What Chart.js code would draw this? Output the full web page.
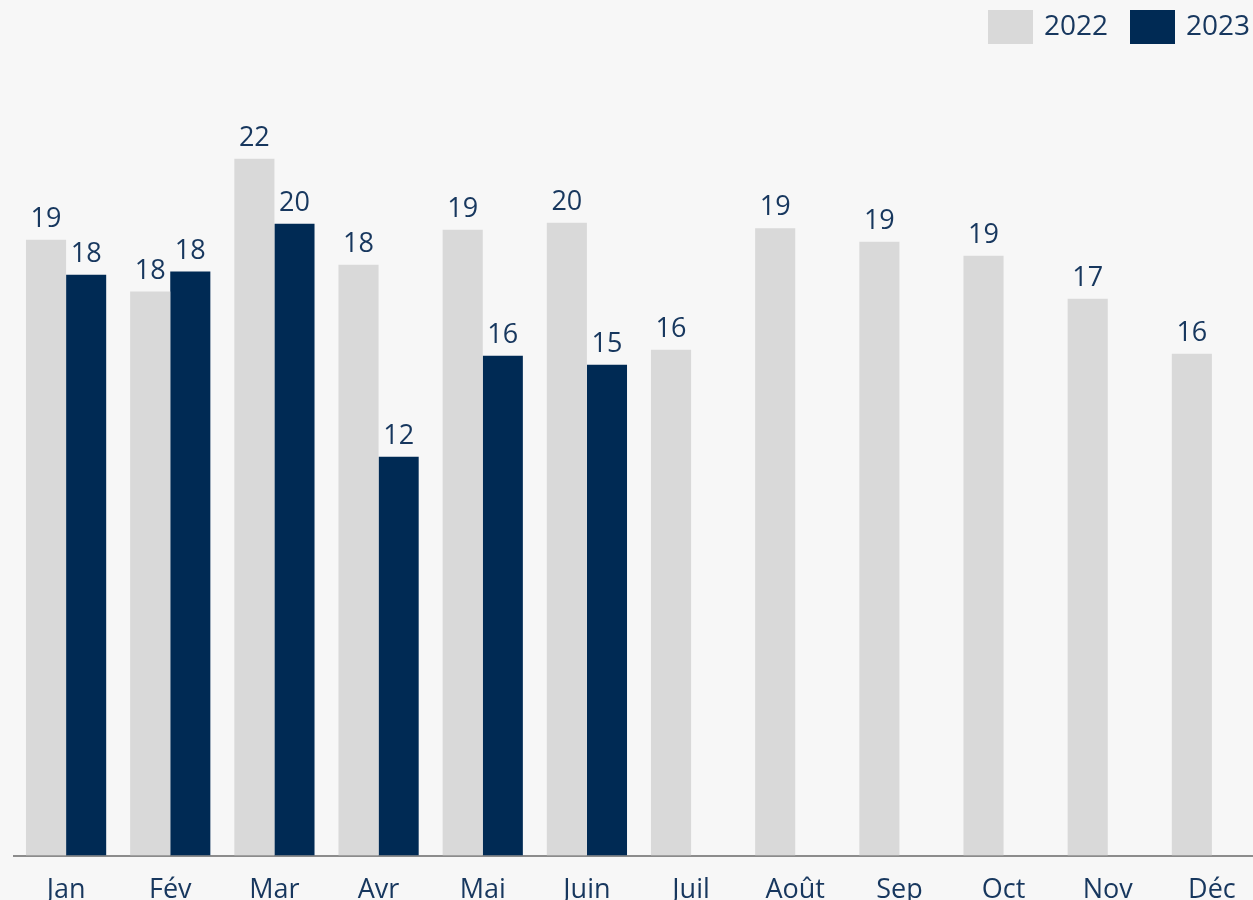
<!DOCTYPE html>
<html>
<head>
<meta charset="utf-8">
<script src="https://cdn.jsdelivr.net/npm/chart.js@4.4.1/dist/chart.umd.min.js"></script>
<style>
    html, body { margin: 0; padding: 0; background: #f7f7f7; overflow: hidden; }
    #wrap { width: 1265px; height: 926px; }
</style>
</head>
<body>
<div id="wrap"><canvas id="chart" width="1265" height="926"></canvas></div>
<script>
const months = ["Jan", "Fév", "Mar", "Avr", "Mai", "Juin", "Juil", "Août", "Sep", "Oct", "Nov", "Déc"];
const values2022 = [19.13, 17.52, 21.65, 18.35, 19.44, 19.66, 15.71, 19.49, 19.07, 18.63, 17.30, 15.59];
const values2023 = [18.04, 18.14, 19.63, 12.39, 15.53, 15.25, null, null, null, null, null, null];

const textColor = "#17375e";
const fontFamily = "'Open Sans', 'Noto Sans', sans-serif";

// numbers above the bars
const valueLabels = {
    id: "valueLabels",
    afterDatasetsDraw(chart) {
        const ctx = chart.ctx;
        ctx.save();
        ctx.font = `27px ${fontFamily}`;
        ctx.fillStyle = textColor;
        ctx.textAlign = "center";
        ctx.textBaseline = "alphabetic";
        chart.data.datasets.forEach((ds, i) => {
            chart.getDatasetMeta(i).data.forEach((bar, j) => {
                const v = ds.data[j];
                if (v == null) return;
                ctx.fillText(Math.round(v), bar.x, bar.y - 13);
            });
        });
        ctx.restore();
    }
};

// legend in the top right corner
const topLegend = {
    id: "topLegend",
    afterDraw(chart) {
        const ctx = chart.ctx;
        const starts = [988, 1130];
        ctx.save();
        ctx.font = `28px ${fontFamily}`;
        ctx.textBaseline = "middle";
        ctx.textAlign = "left";
        chart.data.datasets.forEach((ds, i) => {
            ctx.fillStyle = ds.backgroundColor;
            ctx.fillRect(starts[i], 10, 45, 34);
            ctx.fillStyle = textColor;
            ctx.fillText(ds.label, starts[i] + 56, 27);
        });
        ctx.restore();
    }
};

new Chart(document.getElementById("chart"), {
    type: "bar",
    data: {
        labels: months,
        datasets: [{
            label: "2022",
            data: values2022,
            backgroundColor: "#d9d9d9"
        }, {
            label: "2023",
            data: values2023,
            backgroundColor: "#002a54"
        }]
    },
    options: {
        responsive: false,
        animation: false,
        devicePixelRatio: 1,
        categoryPercentage: 0.77,
        barPercentage: 1,
        layout: { padding: { left: 14, right: 1, top: 54 } },
        plugins: {
            legend: { display: false },
            tooltip: { enabled: false }
        },
        scales: {
            x: {
                grid: { display: false, drawTicks: false },
                border: { display: true, color: "#8c8c8c", width: 2 },
                ticks: {
                    color: textColor,
                    padding: 19,
                    font: { family: fontFamily, size: 27 }
                }
            },
            y: {
                display: false,
                min: 0,
                max: 24.9
            }
        }
    },
    plugins: [valueLabels, topLegend]
});
</script>
</body>
</html>
